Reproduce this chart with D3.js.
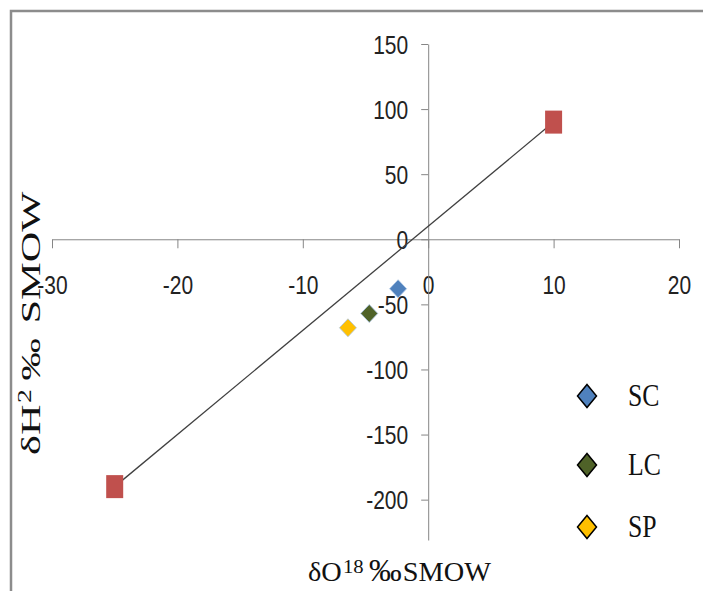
<!DOCTYPE html>
<html>
<head>
<meta charset="utf-8">
<script src="https://cdn.jsdelivr.net/npm/d3@7"></script>
<style>
  body { margin: 0; background: #fff; }
  svg { display: block; }
</style>
</head>
<body>
<div id="chart"></div>
<script>
// regression line end points (red squares)
const lineX = [-25, 10];
const lineY = [-190, 90];

// samples
const sampleNames = ['SC', 'LC', 'SP'];
const sampleX = [-2.4, -4.7, -6.4];
const sampleY = [-38, -57, -68];
const sampleColors = ['#4F81BD', '#4F6228', '#FFC000'];

const xTicks = [-30, -20, -10, 0, 10, 20];
const yTicks = [150, 100, 50, 0, -50, -100, -150, -200];

const W = 703, H = 591;

const svg = d3.select('#chart').append('svg')
  .attr('width', W)
  .attr('height', H);

// outer frame (runs off the right and bottom edge)
svg.append('rect')
  .attr('x', 11).attr('y', 11)
  .attr('width', 760).attr('height', 640)
  .attr('fill', 'none')
  .attr('stroke', '#8c8c8c')
  .attr('stroke-width', 2.5);

const x = d3.scaleLinear().domain([-30, 20]).range([52, 679]);
const y = d3.scaleLinear().domain([-231, 150]).range([540, 44]);

const tickFont = '"Liberation Sans", Arial, sans-serif';
const serif = '"Liberation Serif", "DejaVu Serif", serif';
const axisColor = '#868686';
const fmt = d => String(d); // plain hyphen like Excel

// x axis through y = 0
const gx = svg.append('g')
  .attr('transform', `translate(0,${y(0)})`)
  .call(d3.axisBottom(x).tickValues(xTicks).tickSizeInner(9).tickSizeOuter(0).tickFormat(fmt));
gx.select('.domain').attr('stroke', axisColor);
gx.selectAll('.tick line').attr('stroke', axisColor);
gx.selectAll('.tick text')
  .attr('y', 0)
  .attr('dy', 0)
  .attr('transform', 'translate(0,55) scale(1,1.2)')
  .attr('fill', '#222')
  .style('font-family', tickFont)
  .style('font-size', '21px');

// y axis through x = 0
const gy = svg.append('g')
  .attr('transform', `translate(${x(0)},0)`)
  .call(d3.axisLeft(y).tickValues(yTicks).tickSizeInner(7).tickSizeOuter(0).tickPadding(13).tickFormat(fmt));
gy.select('.domain').attr('stroke', axisColor);
gy.selectAll('.tick line').attr('stroke', axisColor);
gy.selectAll('.tick text')
  .attr('dy', 0)
  .attr('transform', 'translate(0,9) scale(1,1.2)')
  .attr('fill', '#222')
  .style('font-family', tickFont)
  .style('font-size', '21px');

// regression line
const linePts = lineX.map((v, i) => [v, lineY[i]]);
svg.append('path')
  .datum(linePts)
  .attr('fill', 'none')
  .attr('stroke', '#404040')
  .attr('stroke-width', 1.3)
  .attr('d', d3.line().x(d => x(d[0])).y(d => y(d[1])));

// red squares
svg.selectAll('.endpt')
  .data(linePts)
  .enter().append('rect')
  .attr('class', 'endpt')
  .attr('x', d => x(d[0]) - 8.5)
  .attr('y', d => y(d[1]) - 11.5)
  .attr('width', 17)
  .attr('height', 23)
  .attr('fill', '#C0504D');

function diamond(w, h) {
  return `M0,${-h / 2}L${w / 2},0L0,${h / 2}L${-w / 2},0Z`;
}

// sample diamonds
const samples = sampleNames.map((n, i) => ({ name: n, x: sampleX[i], y: sampleY[i], color: sampleColors[i] }));
svg.selectAll('.sample')
  .data(samples)
  .enter().append('path')
  .attr('class', 'sample')
  .attr('transform', d => `translate(${x(d.x)},${y(d.y)})`)
  .attr('d', diamond(17, 18))
  .attr('fill', d => d.color)
  .attr('stroke', '#a9c4e4')
  .attr('stroke-width', 0.8);

// legend
const legendY = [396, 465, 527];
const legend = svg.selectAll('.legend')
  .data(samples)
  .enter().append('g')
  .attr('class', 'legend')
  .attr('transform', (d, i) => `translate(587,${legendY[i]})`);
legend.append('path')
  .attr('d', diamond(19, 23))
  .attr('fill', d => d.color)
  .attr('stroke', '#000')
  .attr('stroke-width', 1.5);
legend.append('text')
  .attr('transform', 'translate(41,10) scale(1.03,1.22)')
  .style('font-family', serif)
  .style('font-size', '25px')
  .attr('fill', '#111')
  .text(d => d.name);

// x axis title
const xt = svg.append('text')
  .attr('transform', 'translate(308,581) scale(1.09,1.02)')
  .style('font-family', serif)
  .style('font-size', '26px')
  .attr('fill', '#111');
xt.append('tspan').text('δO');
xt.append('tspan').attr('dy', -8).attr('dx', 1).style('font-size', '19px').text('18');
xt.append('tspan').attr('dy', 8).attr('dx', 5).style('font-size', '30px').text('‰');
xt.append('tspan').attr('dx', 1).text('SMOW');

// y axis title
const yt = svg.append('text')
  .attr('transform', 'translate(40,455) rotate(-90) scale(1.46,0.95)')
  .style('font-family', serif)
  .style('font-size', '29px')
  .attr('fill', '#111');
yt.append('tspan').text('δH');
yt.append('tspan').attr('dy', -9).attr('dx', 1).style('font-size', '19px').text('2');
yt.append('tspan').attr('dy', 9).attr('dx', 6).text('‰');
yt.append('tspan').attr('dx', 10).text('SMOW');
</script>
</body>
</html>
